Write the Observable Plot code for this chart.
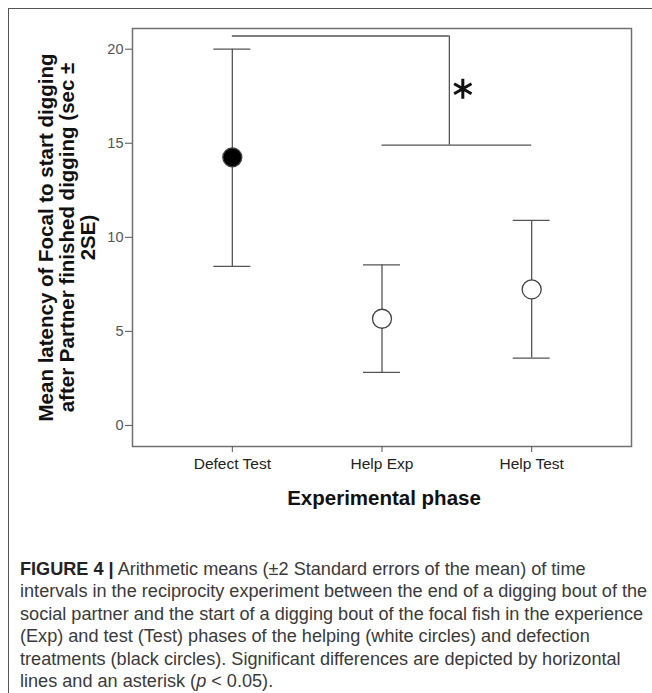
<!DOCTYPE html>
<html>
<head>
<meta charset="utf-8">
<script src="https://cdn.jsdelivr.net/npm/d3@7"></script>
<script src="https://cdn.jsdelivr.net/npm/@observablehq/plot@0.6"></script>
<style>
  html, body { margin: 0; padding: 0; background: #fff; width: 652px; height: 693px; overflow: hidden; }
  #box { position: absolute; left: 8px; top: 8px; width: 700px; height: 720px;
         border-top: 1.5px solid #555; border-left: 1.5px solid #555; }
  #chart { position: absolute; left: 0; top: 0; }
  #cap { position: absolute; left: 20px; top: 558px; white-space: nowrap;
         font-family: "Liberation Sans", Arial, sans-serif; color: #3a3a3a;
         font-size: 16px; line-height: 22.4px; }
  #cap b { color: #222; }
</style>
</head>
<body>
<div id="box"></div>
<div id="chart"></div>
<div id="cap"><span id="l1"><b>FIGURE 4 |</b> Arithmetic means (±2 Standard errors of the mean) of time</span><br><span id="l2">intervals in the reciprocity experiment between the end of a digging bout of the</span><br>social partner and the start of a digging bout of the focal fish in the experience<br>(Exp) and test (Test) phases of the helping (white circles) and defection<br>treatments (black circles). Significant differences are depicted by horizontal<br>lines and an asterisk (<i>p</i> &lt; 0.05).</div>
<script>
// ---- data ----
const phases = ["Defect Test", "Help Exp", "Help Test"];
const means  = [14.25, 5.67, 7.23];
const upper  = [20.0, 8.53, 10.9];
const lower  = [8.45, 2.82, 3.58];
const fills  = ["#000000", "#ffffff", "#ffffff"];
const yTicks = [0, 5, 10, 15, 20];
// significance bracket (data units)
const bracketTop = 20.7;
const bracketLow = 14.9;
const bracketJoin = 1.45;
const starPos = [{x: 1.54, y: 17.9}];
const yTitle = "Mean latency of Focal to start digging\nafter Partner finished digging (sec ±\n2SE)";
const xTitle = "Experimental phase";

const rows = phases.map((p, i) => ({i, phase: p, mean: means[i], lo: lower[i], hi: upper[i], fill: fills[i]}));
const sigH = [{y: bracketTop, x1: 0, x2: bracketJoin}, {y: bracketLow, x1: 1, x2: 2}];
const sigV = [{x: bracketJoin, y1: bracketLow, y2: bracketTop}];

const lineColor = "#555";
const chart = Plot.plot({
  width: 652, height: 520,
  marginLeft: 132, marginRight: 21, marginTop: 28, marginBottom: 74,
  style: {fontFamily: "'Liberation Sans', Arial, sans-serif", background: "transparent", overflow: "visible"},
  x: {domain: [-0.667, 2.667]},
  y: {domain: [-1.12, 21.1]},
  color: {type: "identity"},
  marks: [
    Plot.frame({stroke: "#707070", strokeWidth: 1.5}),
    Plot.axisY({ticks: yTicks, tickSize: 7, tickPadding: 2, fontSize: 14.5, stroke: "#555", fill: "#555", label: null}),
    Plot.axisX({ticks: phases.map((_, i) => i), tickFormat: i => phases[i], tickSize: 6, tickPadding: 5,
                fontSize: 15.5, stroke: "#555", fill: "#222", label: null}),
    Plot.ruleX(rows, {x: "i", y1: "lo", y2: "hi", stroke: lineColor, strokeWidth: 1.3}),
    Plot.ruleY(rows, {y: "hi", x1: "i", x2: "i", insetLeft: -18.5, insetRight: -18.5, stroke: lineColor, strokeWidth: 1.3}),
    Plot.ruleY(rows, {y: "lo", x1: "i", x2: "i", insetLeft: -18.5, insetRight: -18.5, stroke: lineColor, strokeWidth: 1.3}),
    Plot.dot(rows, {x: "i", y: "mean", r: 9.5, fill: "fill", stroke: "#444", strokeWidth: 1.3}),
    Plot.ruleY(sigH, {y: "y", x1: "x1", x2: "x2", stroke: lineColor, strokeWidth: 1.3}),
    Plot.ruleX(sigV, {x: "x", y1: "y1", y2: "y2", stroke: lineColor, strokeWidth: 1.3}),
    Plot.dot(starPos, {x: "x", y: "y", symbol: "asterisk", r: 9.5, stroke: "#111", strokeWidth: 3}),
    Plot.text([yTitle], {text: d => d, frameAnchor: "left", dx: -65, rotate: -90, fontSize: 20.5,
                         fontWeight: "bold", lineHeight: 1.03, textAnchor: "middle", lineAnchor: "middle", fill: "#111"}),
    Plot.text([xTitle], {text: d => d, frameAnchor: "bottom", dy: 52, dx: 2, fontSize: 20.5,
                         fontWeight: "bold", lineAnchor: "middle", fill: "#111"})
  ]
});
document.getElementById("chart").appendChild(chart);

// fit caption width to the reference (line 2 spans ~628px)
const l2 = document.getElementById("l2");
const w = l2.getBoundingClientRect().width;
if (w > 0) {
  const fs = 16 * 628 / w;
  document.getElementById("cap").style.fontSize = fs.toFixed(2) + "px";
}
</script>
</body>
</html>
